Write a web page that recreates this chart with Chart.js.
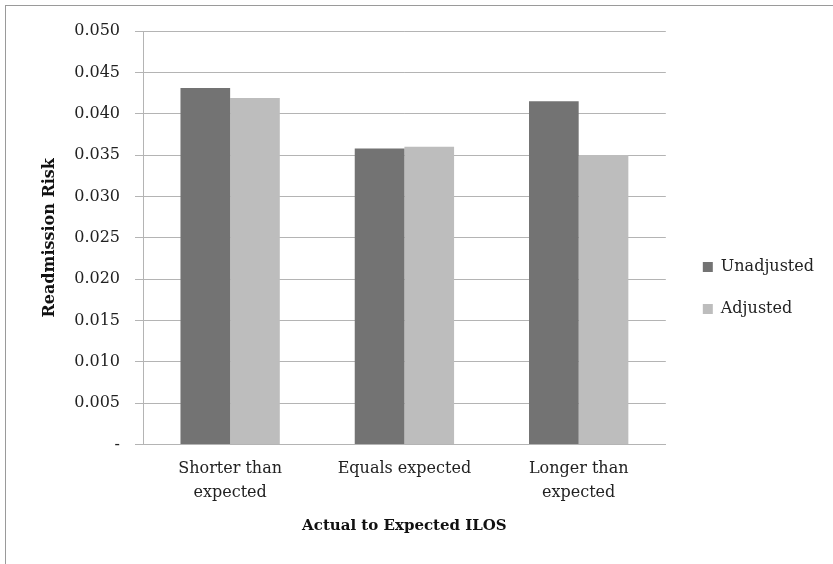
<!DOCTYPE html>
<html>
<head>
<meta charset="utf-8">
<script src="https://cdn.jsdelivr.net/npm/chart.js@4.4.1/dist/chart.umd.min.js"></script>
<style>
  html, body { margin: 0; padding: 0; background: #fff; }
  #wrap {
    position: absolute; left: 0; top: 0; width: 833px; height: 564px;
    box-sizing: border-box;
  }
  #frame {
    position: absolute; left: 5px; top: 5px; right: 0; bottom: 0;
    border-left: 1px solid #9a9a9a; border-top: 1px solid #9a9a9a;
    pointer-events: none;
  }
  canvas { display: block; }
</style>
</head>
<body>
<div id="wrap">
  <canvas id="chart" width="833" height="564"></canvas>
  <div id="frame"></div>
</div>
<script>
// Readmission risk by actual-to-expected ILOS group
const categories = [["Shorter than", "expected"], "Equals expected", ["Longer than", "expected"]];
const unadjusted = [0.0431, 0.0358, 0.0415];
const adjusted = [0.0419, 0.0360, 0.0350];
const yTicks = [0, 0.005, 0.010, 0.015, 0.020, 0.025, 0.030, 0.035, 0.040, 0.045, 0.050];

const serif = "'DejaVu Serif', serif";
const gridGray = '#b4b4b4';

// Nudge the legend block a little away from the plot area
const legendOffset = {
  id: 'legendOffset',
  afterLayout(chart) {
    const l = chart.legend;
    if (!l) return;
    l.left += 11; l.right += 11;
    l.top += 5; l.bottom += 5;
  }
};

new Chart(document.getElementById('chart'), {
  type: 'bar',
  data: {
    labels: categories,
    datasets: [
      { label: 'Unadjusted', data: unadjusted, backgroundColor: '#737373', borderWidth: 0 },
      { label: 'Adjusted', data: adjusted, backgroundColor: '#bdbdbd', borderWidth: 0 }
    ]
  },
  plugins: [legendOffset],
  options: {
    responsive: false,
    animation: false,
    devicePixelRatio: 1,
    layout: { padding: { left: 40, top: 31, right: 20, bottom: 29 } },
    datasets: { bar: { categoryPercentage: 0.57, barPercentage: 1.0 } },
    plugins: {
      tooltip: { enabled: false },
      legend: {
        position: 'right',
        align: 'center',
        labels: {
          boxWidth: 10,
          boxHeight: 10,
          padding: 26,
          color: '#222',
          font: { family: serif, size: 16 }
        }
      }
    },
    scales: {
      x: {
        grid: { display: false, drawTicks: false },
        border: { display: true, color: gridGray, width: 1 },
        ticks: { color: '#222', padding: 13, font: { family: serif, size: 16, lineHeight: 1.45 } },
        title: {
          display: true,
          text: 'Actual to Expected ILOS',
          color: '#111',
          font: { family: serif, size: 15, weight: 'bold' },
          padding: { top: 0, bottom: 0 }
        }
      },
      y: {
        min: 0,
        max: 0.05,
        afterBuildTicks: (scale) => { scale.ticks = yTicks.map(v => ({ value: v })); },
        grid: { color: gridGray, lineWidth: 1, tickLength: 8, drawTicks: true },
        border: { display: true, color: gridGray, width: 1 },
        ticks: {
          color: '#222',
          padding: 15,
          font: { family: serif, size: 16 },
          callback: (v) => v === 0 ? '-' : Number(v).toFixed(3)
        },
        title: {
          display: true,
          text: 'Readmission Risk',
          color: '#111',
          font: { family: serif, size: 16, weight: 'bold' },
          padding: { top: 0, bottom: 0 }
        }
      }
    }
  }
});
</script>
</body>
</html>
